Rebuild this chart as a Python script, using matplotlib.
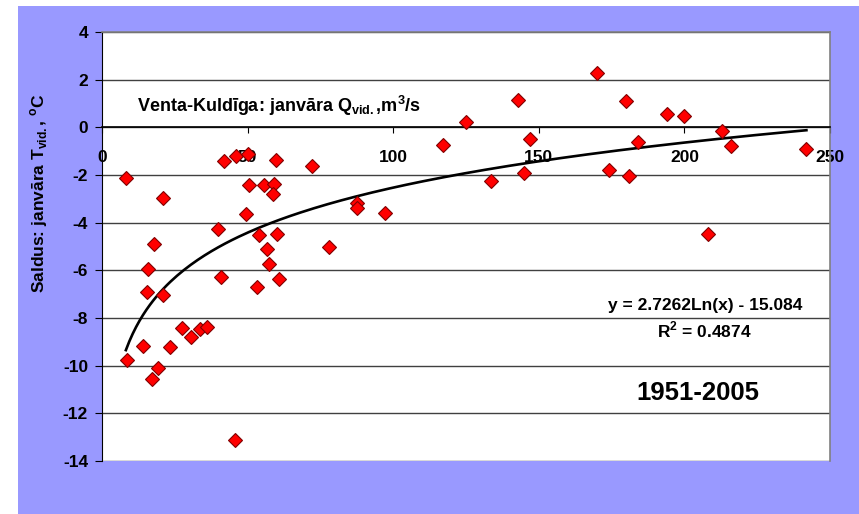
import matplotlib.pyplot as plt
import matplotlib.patches as mpatches
import numpy as np

plt.rcParams['font.family'] = ['Liberation Sans', 'DejaVu Sans']
plt.rcParams['mathtext.fontset'] = 'custom'
plt.rcParams['mathtext.rm'] = 'Liberation Sans'
plt.rcParams['mathtext.bf'] = 'Liberation Sans:bold'
plt.rcParams['axes.unicode_minus'] = False

# janvara Q (Venta-Kuldiga) vs janvara T (Saldus), 1951-2005
q_vid = [8.2, 20.8, 41.8, 46.1, 50.1, 59.8, 72.1, 50.5, 55.5, 59.0,
         58.7, 49.6, 39.8, 17.7, 53.8, 60.0, 56.8, 57.5, 15.7, 40.9,
         60.9, 53.2, 15.6, 20.8, 8.5, 14.0, 23.4, 27.6, 30.5, 33.7,
         36.2, 19.2, 17.1, 45.8, 78.1, 87.5, 87.7, 97.3, 117.0, 125.0,
         133.7, 143.0, 147.0, 145.0, 170.1, 180.0, 193.9, 200.0, 212.9, 216.0,
         183.9, 174.0, 180.9, 208.0, 241.9]
t_vid = [-2.14, -2.95, -1.43, -1.19, -1.12, -1.39, -1.62, -2.41, -2.41, -2.38,
         -2.81, -3.63, -4.25, -4.91, -4.52, -4.46, -5.12, -5.74, -5.95, -6.28,
         -6.37, -6.70, -6.92, -7.02, -9.77, -9.18, -9.23, -8.41, -8.79, -8.48,
         -8.37, -10.09, -10.56, -13.11, -5.02, -3.19, -3.37, -3.60, -0.73, 0.24,
         -2.25, 1.15, -0.49, -1.93, 2.27, 1.12, 0.57, 0.46, -0.14, -0.78,
         -0.60, -1.79, -2.06, -4.48, -0.92]

# logarithmic trend line coefficients
trend_a = 2.7262
trend_b = -15.084
r2 = 0.4874

fig = plt.figure(figsize=(8.59, 5.14), dpi=100)
fig.patch.set_facecolor('white')
fig.patches.append(mpatches.Rectangle((18 / 859, 0), 1, 1 - 6 / 514,
                                      transform=fig.transFigure,
                                      facecolor='#9999FF', edgecolor='none',
                                      zorder=-10))

ax = fig.add_axes([102 / 859, 1 - 461 / 514, (830 - 102) / 859, (461 - 32) / 514])
ax.set_facecolor('white')

ax.set_xlim(0, 250)
ax.set_ylim(-14, 4)
ax.set_xticks(np.arange(0, 251, 50))
ax.set_yticks(np.arange(-14, 5, 2))
ax.yaxis.grid(True, color='#404040', linewidth=1)
ax.set_axisbelow(True)

for side in ['top', 'right']:
    ax.spines[side].set_color('#808080')
    ax.spines[side].set_linewidth(1.2)
ax.spines['left'].set_color('black')
ax.spines['bottom'].set_position(('data', 0))
ax.spines['bottom'].set_color('black')
ax.spines['bottom'].set_linewidth(1.2)

ax.tick_params(axis='x', direction='out', length=4, pad=12, labelsize=12.5)
ax.tick_params(axis='y', direction='out', length=5, pad=5, labelsize=12.5)
for lbl in ax.get_xticklabels() + ax.get_yticklabels():
    lbl.set_fontweight('bold')

xt = np.linspace(min(q_vid), max(q_vid), 200)
ax.plot(xt, trend_a * np.log(xt) + trend_b, color='black', linewidth=1.9, zorder=3)

ax.plot(q_vid, t_vid, linestyle='none', marker='D', markersize=6.8,
        markerfacecolor='#FF0000', markeredgecolor='#800000',
        markeredgewidth=0.8, zorder=4, clip_on=False)

ax.text(12, 0.65, r'Venta-Kuldīga: janvāra Q$_{\mathbf{vid.}}$,m$^{\mathbf{3}}$/s',
        fontsize=13, fontweight='bold', ha='left', va='baseline')
ax.text(207, -7.67, 'y = %.4fLn(x) - %.3f' % (trend_a, -trend_b),
        fontsize=12.5, fontweight='bold', ha='center', va='baseline')
ax.text(207, -8.8, r'R$^{\mathbf{2}}$ = %.4f' % r2,
        fontsize=12.5, fontweight='bold', ha='center', va='baseline')
ax.text(204.7, -11.44, '1951-2005', fontsize=18.5, fontweight='bold',
        ha='center', va='baseline')

fig.text(39 / 859, 1 - 193 / 514,
         r'Saldus: janvāra T$_{\mathbf{vid.}}$, $^{\mathbf{o}}$C',
         rotation=90, fontsize=12.5, fontweight='bold', ha='center', va='center')

plt.savefig('out.png', dpi=100)
